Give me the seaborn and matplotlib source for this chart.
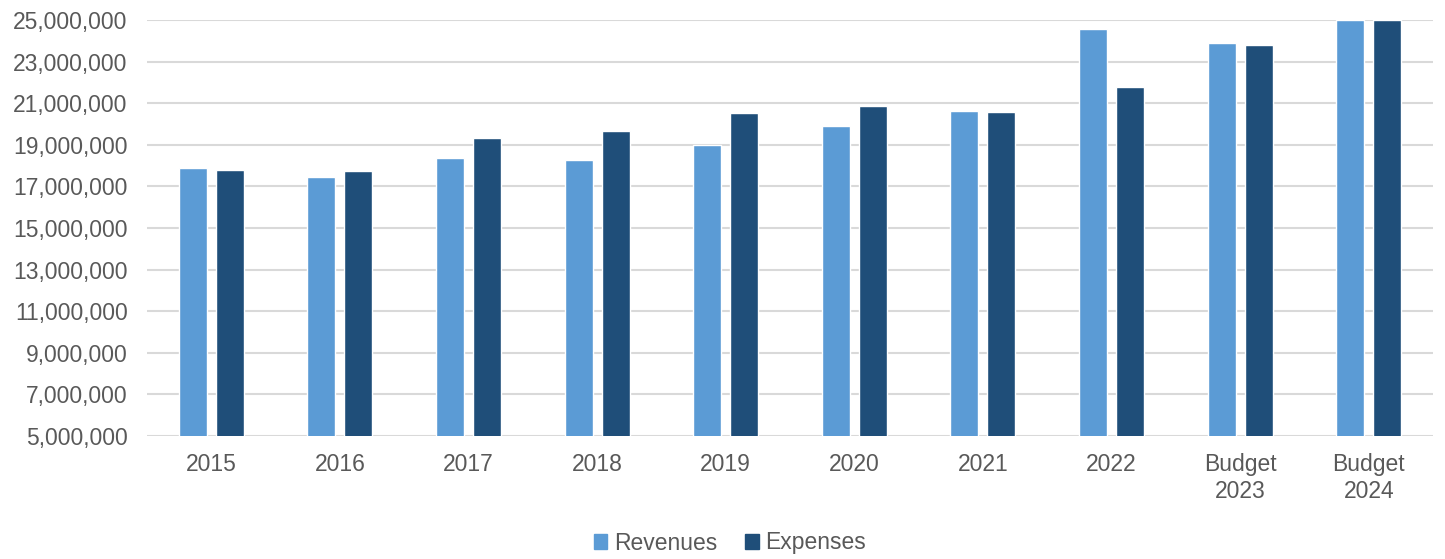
import matplotlib
matplotlib.use("Agg")
import matplotlib.pyplot as plt
import matplotlib.patches as mpatches
from matplotlib.ticker import FuncFormatter, FixedLocator
import pandas as pd
import seaborn as sns

# Annual figures
categories = ["2015", "2016", "2017", "2018", "2019", "2020", "2021", "2022",
              "Budget\n2023", "Budget\n2024"]
revenues = [17870000, 17430000, 18350000, 18280000, 19000000, 19900000,
            20630000, 24590000, 23900000, 25000000]
expenses = [17800000, 17740000, 19330000, 19670000, 20530000, 20880000,
            20570000, 21770000, 23780000, 25000000]
series_names = ["Revenues", "Expenses"]
colors = ["#5B9BD5", "#1F4E79"]
y_ticks = list(range(5000000, 25000001, 2000000))

df = pd.DataFrame({
    "Year": categories * 2,
    "Amount": revenues + expenses,
    "Series": [series_names[0]] * len(categories) + [series_names[1]] * len(categories),
})

sns.set_theme(style="white")
plt.rcParams["font.family"] = ["Liberation Sans", "DejaVu Sans"]

fig = plt.figure(figsize=(14.45, 5.59), dpi=100)
ax = fig.add_axes([147 / 1445, 1 - 436 / 559, (1433 - 147) / 1445, (436 - 20) / 559])

sns.barplot(data=df, x="Year", y="Amount", hue="Series", order=categories,
            hue_order=series_names, palette=colors, width=0.575, gap=0.24,
            saturation=1, ax=ax, legend=False, zorder=3)

ax.set_ylim(5000000, 25000000)
ax.set_xlim(-0.5, len(categories) - 0.5)
ax.yaxis.set_major_locator(FixedLocator(y_ticks))
ax.yaxis.set_major_formatter(FuncFormatter(lambda v, p: f"{int(v):,}"))
ax.grid(axis="y", color="#D9D9D9", linewidth=1.5, zorder=0)
ax.set_axisbelow(True)
for s in ax.spines.values():
    s.set_visible(False)
ax.set_xlabel("")
ax.set_ylabel("")
ax.tick_params(axis="y", length=0, pad=14, labelsize=16.5, labelcolor="#595959")
ax.tick_params(axis="x", length=0, pad=12, labelsize=16.5, labelcolor="#595959")
for lbl in ax.get_xticklabels():
    lbl.set_linespacing(1.25)

handles = [mpatches.Patch(color=c, label=n) for c, n in zip(colors, series_names)]
fig.legend(handles=handles, loc="center", bbox_to_anchor=(730 / 1445, 1 - 543 / 559),
           ncol=2, frameon=False, fontsize=16.5, labelcolor="#595959",
           handlelength=0.6, handleheight=0.6, handletextpad=0.3,
           columnspacing=1.2)

fig.savefig("out.png", dpi=100, facecolor="white")
